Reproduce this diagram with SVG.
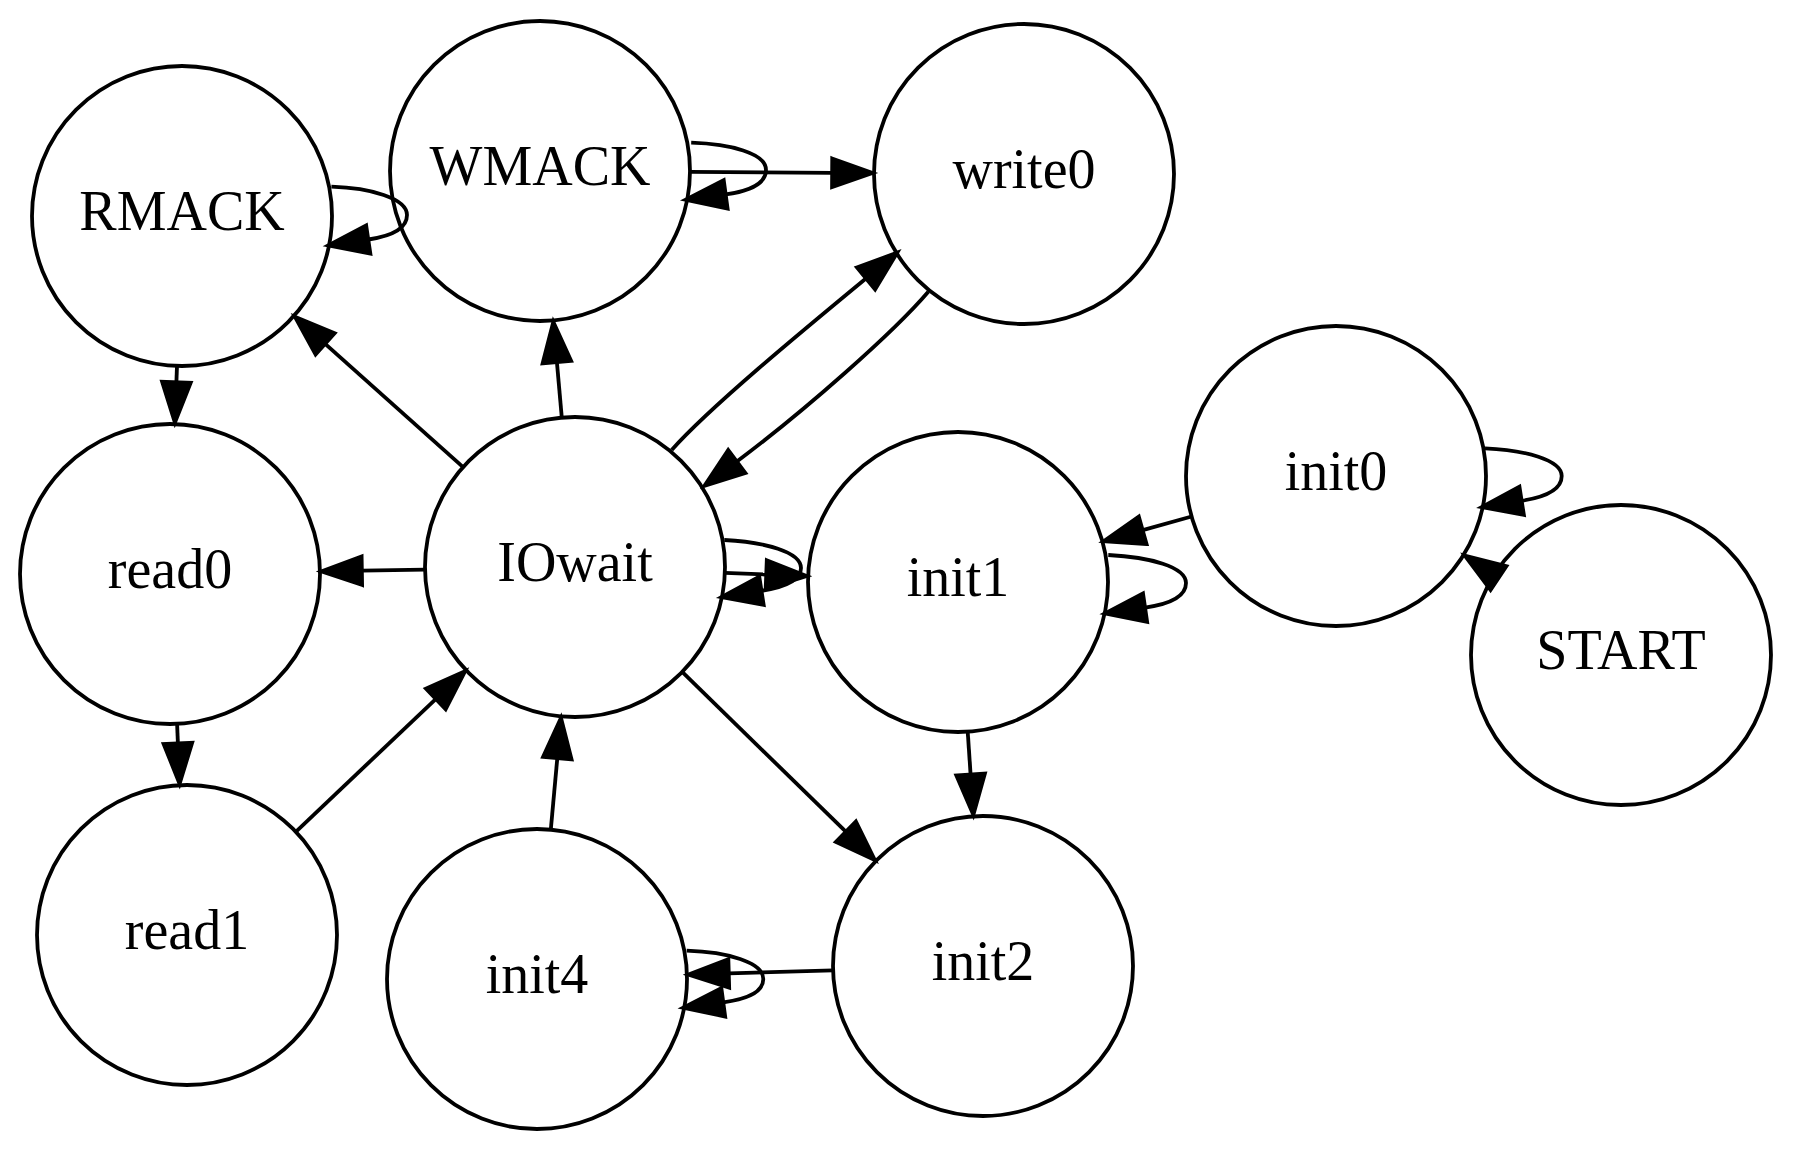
<svg xmlns="http://www.w3.org/2000/svg" width="1793" height="1150" viewBox="0 0 1793 1150">
<style>
.node ellipse{fill:#fff;stroke:#000;stroke-width:3.8}
.node text{font-family:"Liberation Serif","Times New Roman",serif;font-size:56px;text-anchor:middle;fill:#000}
.edge{fill:none;stroke:#000;stroke-width:3.8;marker-end:url(#ah)}
</style>
<defs>
<marker id="ah" markerUnits="userSpaceOnUse" viewBox="-3 -3 48 36" markerWidth="48" markerHeight="36" refX="0" refY="15" orient="auto" overflow="visible">
<path d="M0,0.5 L41,15 L0,29.5 Z" fill="#000" stroke="#000" stroke-width="3.5"/>
</marker>
</defs>
<rect width="1793" height="1150" fill="#fff"/>
<g id="nodes">
<g id="RMACK" class="node"><ellipse cx="182" cy="216" rx="150" ry="150"/><text x="182" y="230">RMACK</text></g>
<g id="WMACK" class="node"><ellipse cx="540" cy="171" rx="150" ry="150"/><text x="540" y="185">WMACK</text></g>
<g id="write0" class="node"><ellipse cx="1024" cy="174" rx="150" ry="150"/><text x="1024" y="188">write0</text></g>
<g id="IOwait" class="node"><ellipse cx="575" cy="567" rx="150" ry="150"/><text x="575" y="581">IOwait</text></g>
<g id="read0" class="node"><ellipse cx="170" cy="574" rx="150" ry="150"/><text x="170" y="588">read0</text></g>
<g id="read1" class="node"><ellipse cx="187" cy="935" rx="150" ry="150"/><text x="187" y="949">read1</text></g>
<g id="init4" class="node"><ellipse cx="537" cy="979" rx="150" ry="150"/><text x="537" y="993">init4</text></g>
<g id="init2" class="node"><ellipse cx="983" cy="966" rx="150" ry="150"/><text x="983" y="980">init2</text></g>
<g id="init1" class="node"><ellipse cx="958" cy="582" rx="150" ry="150"/><text x="958" y="596">init1</text></g>
<g id="init0" class="node"><ellipse cx="1336" cy="476" rx="150" ry="150"/><text x="1336" y="490">init0</text></g>
<g id="START" class="node"><ellipse cx="1621" cy="655" rx="150" ry="150"/><text x="1621" y="669">START</text></g>
</g>
<g id="edges">
<path class="edge" d="M177,365.9 L176.4,382.1"/>
<path class="edge" d="M177.1,723.8 L177.9,743.2"/>
<path class="edge" d="M463.1,467.1 L325.2,343.9"/>
<path class="edge" d="M561.8,417.6 L556.9,362.2"/>
<path class="edge" d="M690,171.9 L832,172.8"/>
<path class="edge" d="M425,569.6 L362,570.7"/>
<path class="edge" d="M295.8,831.8 L435.7,699.1"/>
<path class="edge" d="M550.8,829.6 L557.3,758.2"/>
<path class="edge" d="M682.2,671.9 L845.8,831.7"/>
<path class="edge" d="M833.1,970.4 L728.9,973.4"/>
<path class="edge" d="M967.7,731.7 L970.6,774.4"/>
<path class="edge" d="M1191.6,516.5 L1142.8,530.2"/>
<path class="edge" d="M1499.5,578.7 L1498.6,578.1"/>
<path class="edge" d="M724.9,572.9 L766.1,574.5"/>
<path class="edge" d="M671.7,450 C709,408 800.3,332.6 865.9,278.5"/>
<path class="edge" d="M928.3,291.7 C893,333 804.9,410.5 736.9,461.5"/>
<path class="edge" d="M331.4,186.7 C370,188 407,198 407,215 C407,228 392,236 368.4,239.5"/>
<path class="edge" d="M691.2,142.7 C730,144 766,153 766,170 C766,183 750,191 725.8,194.3"/>
<path class="edge" d="M724.3,540 C765,542 801,552 801,568 C801,580 786,587 761.6,590.8"/>
<path class="edge" d="M1108.3,555 C1150,557 1186,567 1186,583 C1186,596 1170,604 1145.2,607.6"/>
<path class="edge" d="M1485,448.3 C1525,450 1561.7,460 1561.7,476 C1561.7,489 1546,497 1521.8,500.8"/>
<path class="edge" d="M686.7,950.7 C727,952 763.3,962 763.3,979 C763.3,992 748,999 723.4,1002.3"/>
</g>
</svg>
